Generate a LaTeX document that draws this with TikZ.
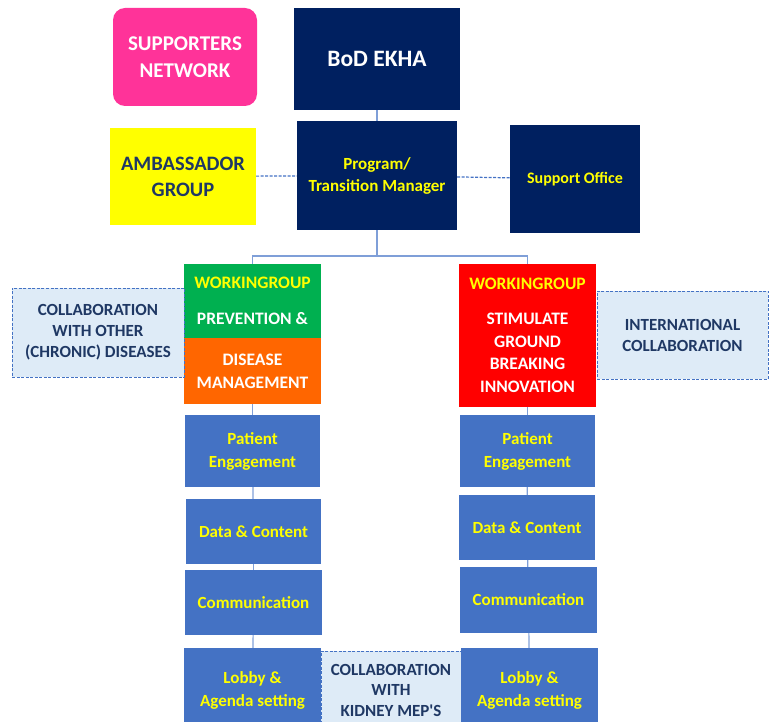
\documentclass[tikz,border=0pt]{standalone}
\usepackage{fontspec}
\setmainfont{Carlito}
\usepackage{tikz}
\definecolor{navy}{HTML}{002060}
\definecolor{bbox}{HTML}{4472C4}
\definecolor{ytext}{HTML}{FFFF00}
\definecolor{dtext}{HTML}{1F3864}
\definecolor{lblue}{HTML}{DEEBF7}
\definecolor{cline}{HTML}{7F9FD8}
\definecolor{pinkbox}{HTML}{FF3399}
\definecolor{greenbox}{HTML}{00B050}
\definecolor{orangebox}{HTML}{FF6600}
\newcommand{\fs}[2]{\fontsize{#1}{#2}\selectfont}
\tikzset{
  box/.style={inner sep=0pt, align=center, font=\bfseries},
  navybox/.style={box, fill=navy, text=ytext, font=\bfseries\fs{17}{22}},
  bluebox/.style={box, fill=bbox, text=ytext, font=\bfseries\fs{17}{23}},
  collab/.style={box, fill=lblue, draw=bbox, dash pattern=on 3pt off 1.5pt, line width=0.8pt, text=dtext, font=\bfseries\fs{17}{21}},
  conn/.style={draw=cline, line width=1.2pt},
  dconn/.style={conn, draw=bbox, dash pattern=on 3pt off 1.5pt}
}

\begin{document}
\begin{tikzpicture}[x=1pt, y=-1pt]
\useasboundingbox (0,0) rectangle (772,722);
\clip (0,0) rectangle (772,722);
%top
\node[box, fill=pinkbox, text=white, rounded corners=12pt, minimum width=144pt, minimum height=98pt, font=\bfseries\fs{21}{27}] (1) at (185,57) {SUPPORTERS\\NETWORK};
\node[navybox, text=white, minimum width=166pt, minimum height=102pt, font=\bfseries\fs{23.5}{27}] (2) at (377,59) {BoD EKHA};
\node[box, fill=ytext, text=dtext, minimum width=146pt, minimum height=97pt, font=\bfseries\fs{20.5}{26}] (3) at (183,176.5) {AMBASSADOR\\GROUP};
\node[navybox, minimum width=160pt, minimum height=109pt] (4) at (377,175.5) {Program/\\Transition Manager};
\node[navybox, minimum width=130pt, minimum height=108pt, font=\bfseries\fs{16}{22}] (5) at (575,179) {Support Office};
%workinggroups
\node[box, fill=greenbox, text=white, minimum width=137pt, minimum height=74pt, font=\bfseries\fs{17.5}{20}] (6) at (252.5,301) {\textcolor{ytext}{WORKINGROUP}\\[16pt]PREVENTION \&};
\node[box, fill=orangebox, text=white, minimum width=137pt, minimum height=66pt, font=\bfseries\fs{17.5}{23}] (7) at (252.5,371) {DISEASE\\MANAGEMENT};
\node[collab, minimum width=172pt, minimum height=89pt] (8) at (98,332.5) {COLLABORATION\\WITH OTHER\\(CHRONIC) DISEASES};
\node[box, fill=red, text=white, minimum width=137pt, minimum height=143pt, font=\bfseries\fs{17.5}{22.5}] (9) at (527.5,335.5) {\textcolor{ytext}{WORKINGROUP}\\[12.5pt]STIMULATE\\GROUND\\BREAKING\\INNOVATION};
\node[collab, minimum width=171pt, minimum height=88pt] (10) at (682.5,335) {INTERNATIONAL\\COLLABORATION};
%left column
\node[bluebox, minimum width=135pt, minimum height=72pt] (11) at (252.5,451) {Patient\\Engagement};
\node[bluebox, minimum width=135pt, minimum height=65pt] (12) at (253.5,531.5) {Data \& Content};
\node[bluebox, minimum width=137pt, minimum height=65pt] (13) at (253.5,602.5) {Communication};
\node[bluebox, minimum width=137pt, minimum height=84pt] (14) at (252.5,690) {Lobby \&\\Agenda setting};
%right column
\node[bluebox, minimum width=135pt, minimum height=72pt] (15) at (527.5,451) {Patient\\Engagement};
\node[bluebox, minimum width=136pt, minimum height=65pt] (16) at (527,527.5) {Data \& Content};
\node[bluebox, minimum width=137pt, minimum height=66pt] (17) at (528.5,600) {Communication};
\node[bluebox, minimum width=137pt, minimum height=84pt] (18) at (529.5,690) {Lobby \&\\Agenda setting};
\node[collab, minimum width=140pt, minimum height=78pt, font=\bfseries\fs{17}{20.5}] (19) at (391,690) {COLLABORATION\\WITH\\KIDNEY MEP\textquotesingle S};
%lines
\coordinate (s) at (377,256);
\draw[conn] (2) -- (4);
\draw[conn] (4) -- (s);
\draw[conn] (s) -| (6);
\draw[conn] (s) -| (9);
\draw[dconn] (3) -- (4);
\draw[dconn] (4) -- (5);
\draw[conn] (7) -- (11);
\draw[conn] (11) -- (12);
\draw[conn] (12) -- (13);
\draw[conn] (13) -- (14);
\draw[conn] (9) -- (15);
\draw[conn] (15) -- (16);
\draw[conn] (16) -- (17);
\draw[conn] (17) -- (18);
\end{tikzpicture}
\end{document}
